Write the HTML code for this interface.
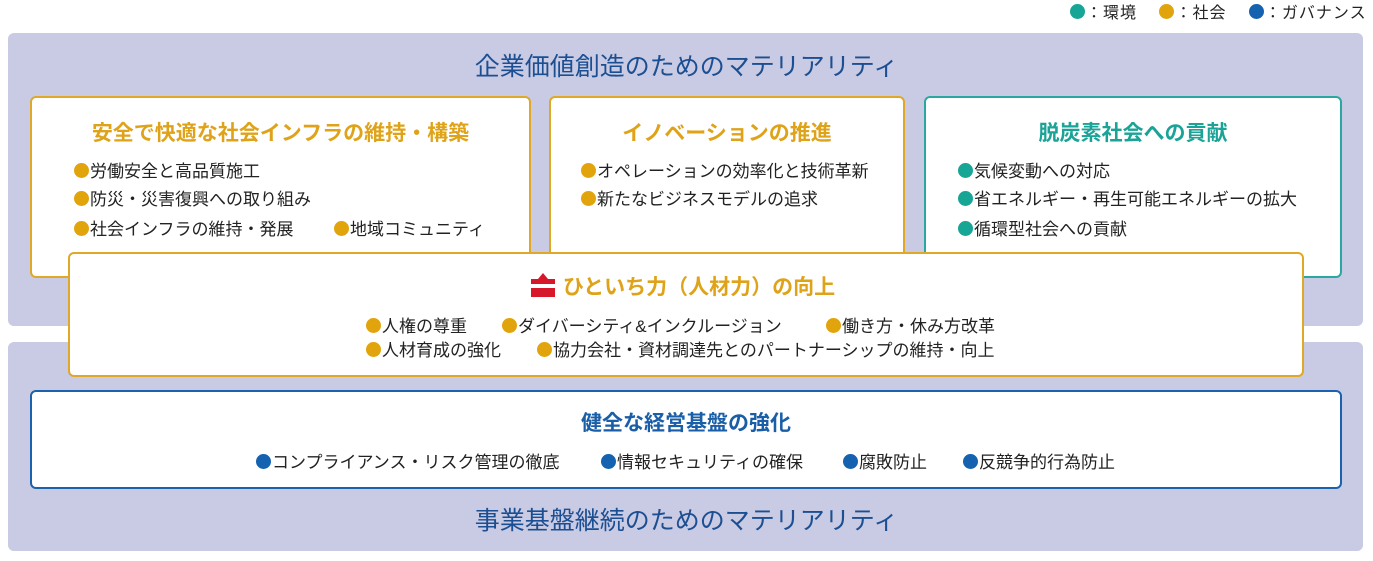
<!DOCTYPE html>
<html><head><meta charset="utf-8"><style>
*{margin:0;padding:0;box-sizing:border-box}
body{width:1373px;height:561px;background:#fff;position:relative;overflow:hidden;font-family:"Liberation Sans","Noto Sans CJK JP",sans-serif;color:#222}
.abs{position:absolute}
.band{position:absolute;left:8px;width:1355px;background:#c9cae3;border-radius:6px}
.box{position:absolute;background:#fff;border-radius:6px;border:2px solid #dfa826}
.t{position:absolute;left:0;right:0;text-align:center;font-weight:bold;font-size:21px}
.g{color:#dfa31a}.tl{color:#1aa396}.bl{color:#1a5ea8}
.i{position:absolute;font-size:17px;white-space:nowrap}
.d{display:inline-block;width:15px;height:15px;border-radius:50%;vertical-align:-1px;margin-right:1px}
.dg{background:#e2a40c}.dt{background:#17a596}.db{background:#1562b0}
.big{position:absolute;left:0;right:0;text-align:center;font-size:25px;color:#1c4f92}
</style></head><body>
<div class="i" style="left:1070px;top:-1px;font-size:16px;letter-spacing:1px"><span class="d dt"></span>：環境　 <span class="d dg"></span>：社会　 <span class="d db"></span>：ガバナンス</div>
<div class="band" style="top:33px;height:293px"></div>
<div class="band" style="top:342px;height:209px"></div>
<div class="big" style="top:47px">企業価値創造のためのマテリアリティ</div>
<div class="big" style="top:501px">事業基盤継続のためのマテリアリティ</div>

<div class="box" style="left:30px;top:96px;width:501px;height:182px">
<div class="t g" style="top:19px">安全で快適な社会インフラの維持・構築</div>
<div class="i" style="left:42px;top:59px"><span class="d dg"></span>労働安全と高品質施工</div>
<div class="i" style="left:42px;top:87px"><span class="d dg"></span>防災・災害復興への取り組み</div>
<div class="i" style="left:42px;top:117px"><span class="d dg"></span>社会インフラの維持・発展</div>
<div class="i" style="left:302px;top:117px"><span class="d dg"></span>地域コミュニティ</div>
</div>
<div class="box" style="left:549px;top:96px;width:356px;height:182px">
<div class="t g" style="top:19px">イノベーションの推進</div>
<div class="i" style="left:30px;top:59px"><span class="d dg"></span>オペレーションの効率化と技術革新</div>
<div class="i" style="left:30px;top:87px"><span class="d dg"></span>新たなビジネスモデルの追求</div>
</div>
<div class="box" style="left:924px;top:96px;width:418px;height:182px;border-color:#2aa8a0">
<div class="t tl" style="top:19px">脱炭素社会への貢献</div>
<div class="i" style="left:32px;top:59px"><span class="d dt"></span>気候変動への対応</div>
<div class="i" style="left:32px;top:87px"><span class="d dt"></span>省エネルギー・再生可能エネルギーの拡大</div>
<div class="i" style="left:32px;top:117px"><span class="d dt"></span>循環型社会への貢献</div>
</div>
<div class="box" style="left:68px;top:252px;width:1236px;height:125px">
<div class="abs" style="left:461px;top:19px;width:24px;height:24px">
<div class="abs" style="left:7px;top:0;width:0;height:0;border-left:5px solid transparent;border-right:5px solid transparent;border-bottom:6px solid #d7182a"></div>
<div class="abs" style="left:0;top:6px;width:24px;height:5px;background:#d7182a"></div>
<div class="abs" style="left:0;top:15px;width:24px;height:9px;background:#d7182a"></div>
</div>
<div class="t g" style="top:17px;left:26px">ひといち力（人材力）の向上</div>
<div class="i" style="left:296px;top:58px"><span class="d dg"></span>人権の尊重</div>
<div class="i" style="left:432px;top:58px"><span class="d dg"></span>ダイバーシティ&amp;インクルージョン</div>
<div class="i" style="left:756px;top:58px"><span class="d dg"></span>働き方・休み方改革</div>
<div class="i" style="left:296px;top:82px"><span class="d dg"></span>人材育成の強化</div>
<div class="i" style="left:467px;top:82px"><span class="d dg"></span>協力会社・資材調達先とのパートナーシップの維持・向上</div>
</div>
<div class="box" style="left:30px;top:390px;width:1312px;height:99px;border-color:#1a62ad">
<div class="t bl" style="top:15px">健全な経営基盤の強化</div>
<div class="i" style="left:224px;top:56px"><span class="d db"></span>コンプライアンス・リスク管理の徹底</div>
<div class="i" style="left:569px;top:56px"><span class="d db"></span>情報セキュリティの確保</div>
<div class="i" style="left:811px;top:56px"><span class="d db"></span>腐敗防止</div>
<div class="i" style="left:931px;top:56px"><span class="d db"></span>反競争的行為防止</div>
</div>
</body></html>
